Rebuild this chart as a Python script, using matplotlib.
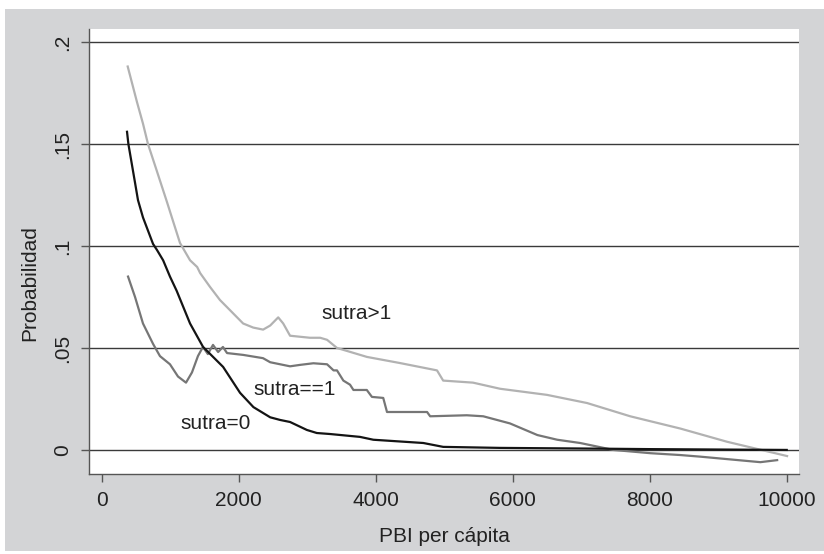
import matplotlib
matplotlib.use("Agg")
import matplotlib.pyplot as plt
from matplotlib.patches import Rectangle

plt.rcParams['font.family'] = ['Liberation Sans', 'DejaVu Sans']

# ---- data ----
x_mayor1 = [380, 516, 603, 676, 808, 949, 1143, 1290, 1394, 1438, 1580, 1727, 1830,
            2065, 2212, 2357, 2460, 2577, 2650, 2750, 3040, 3190, 3290, 3435, 3873,
            4355, 4895, 4985, 5420, 5815, 6500, 7085, 7715, 8445, 9130, 10005]
y_mayor1 = [0.188, 0.1705, 0.160, 0.150, 0.1365, 0.122, 0.1015, 0.093, 0.0897, 0.0867,
            0.080, 0.0735, 0.070, 0.062, 0.060, 0.059, 0.061, 0.065, 0.062, 0.056,
            0.055, 0.055, 0.054, 0.050, 0.0456, 0.0426, 0.039, 0.034, 0.033, 0.030,
            0.027, 0.023, 0.0165, 0.0105, 0.004, -0.003]

x_igual1 = [385, 487, 603, 750, 851, 997, 1114, 1231, 1318, 1405, 1478, 1550, 1625,
            1700, 1770, 1830, 2065, 2355, 2460, 2750, 2895, 3090, 3290, 3385, 3435,
            3528, 3625, 3675, 3870, 3945, 4110, 4165, 4750, 4795, 5330, 5570, 5960,
            6360, 6650, 6985, 7470, 8010, 8445, 8740, 9615, 9860]
y_igual1 = [0.085, 0.075, 0.062, 0.052, 0.046, 0.042, 0.036, 0.033, 0.038, 0.046,
            0.0505, 0.047, 0.0515, 0.048, 0.0505, 0.0475, 0.0466, 0.045, 0.043, 0.041,
            0.0417, 0.0425, 0.042, 0.039, 0.039, 0.034, 0.032, 0.0294, 0.0294, 0.026,
            0.0255, 0.0186, 0.0186, 0.0165, 0.017, 0.0165, 0.013, 0.0073, 0.005,
            0.0034, 0.0, -0.0016, -0.0025, -0.0033, -0.006, -0.005]

x_cero = [370, 390, 487, 530, 603, 750, 808, 897, 997, 1095, 1290, 1480, 1773, 2020,
          2215, 2460, 2605, 2750, 2995, 3140, 3335, 3770, 3965, 4695, 4985, 5815,
          7000, 8000, 9000, 10000]
y_cero = [0.156, 0.150, 0.131, 0.1225, 0.114, 0.101, 0.098, 0.093, 0.085, 0.078,
          0.062, 0.0505, 0.0407, 0.028, 0.021, 0.016, 0.0147, 0.0137, 0.0098, 0.0083,
          0.0078, 0.0064, 0.005, 0.0034, 0.0015, 0.001, 0.0007, 0.0004, 0.0002, 0.0]

x_ticks = [0, 2000, 4000, 6000, 8000, 10000]
x_ticklabels = ['0', '2000', '4000', '6000', '8000', '10000']
y_ticks = [0, 0.05, 0.10, 0.15, 0.20]
y_ticklabels = ['0', '.05', '.1', '.15', '.2']

etiquetas = ['sutra>1', 'sutra==1', 'sutra=0']
etiqueta_x = [3727, 2822, 1657]
etiqueta_y = [0.0671, 0.0294, 0.0132]

# ---- figure ----
W, H = 824, 554
fig = plt.figure(figsize=(W / 100, H / 100), dpi=100, facecolor='white')
bg = fig.add_axes([0, 0, 1, 1], zorder=-5)
bg.set_xlim(0, W)
bg.set_ylim(H, 0)
bg.axis('off')
bg.add_patch(Rectangle((5, 9), 819, 542, facecolor='#d3d4d6', edgecolor='none'))

ax = fig.add_axes([89 / W, 1 - 474 / H, 710 / W, 445 / H], zorder=1)
ax.set_facecolor('white')
ax.set_xlim(-185, 10179)
ax.set_ylim(-0.0118, 0.2064)

for yv in y_ticks:
    ax.axhline(yv, color='#3a3a3a', lw=1.0, zorder=1)

txt = '#222222'
ax.plot(x_mayor1, y_mayor1, color='#b2b2b2', lw=1.6, zorder=3)
ax.plot(x_igual1, y_igual1, color='#767676', lw=1.6, zorder=3)
ax.plot(x_cero, y_cero, color='#141414', lw=1.6, zorder=4)

for t, xv, yv in zip(etiquetas, etiqueta_x, etiqueta_y):
    ax.text(xv, yv, t, ha='center', va='center', fontsize=15, color=txt)

ax.set_xticks(x_ticks)
ax.set_xticklabels(x_ticklabels)
ax.set_yticks(y_ticks)
ax.set_yticklabels(y_ticklabels, rotation=90, va='center')
ax.tick_params(axis='both', length=6, width=1.0, color='#555555', labelsize=15,
               labelcolor=txt, direction='out')
ax.tick_params(axis='x', pad=6)
ax.tick_params(axis='y', pad=6)

for s in ['top', 'right']:
    ax.spines[s].set_visible(False)
for s in ['left', 'bottom']:
    ax.spines[s].set_color('#555555')
    ax.spines[s].set_linewidth(1.0)

fig.text(30 / W, 1 - 283 / H, 'Probabilidad', rotation=90, ha='center',
         va='center', fontsize=15, color=txt)
fig.text(444 / W, 1 - 537 / H, 'PBI per cápita', ha='center', va='center',
         fontsize=15, color=txt)

fig.savefig('out.png', dpi=100, facecolor='white')
